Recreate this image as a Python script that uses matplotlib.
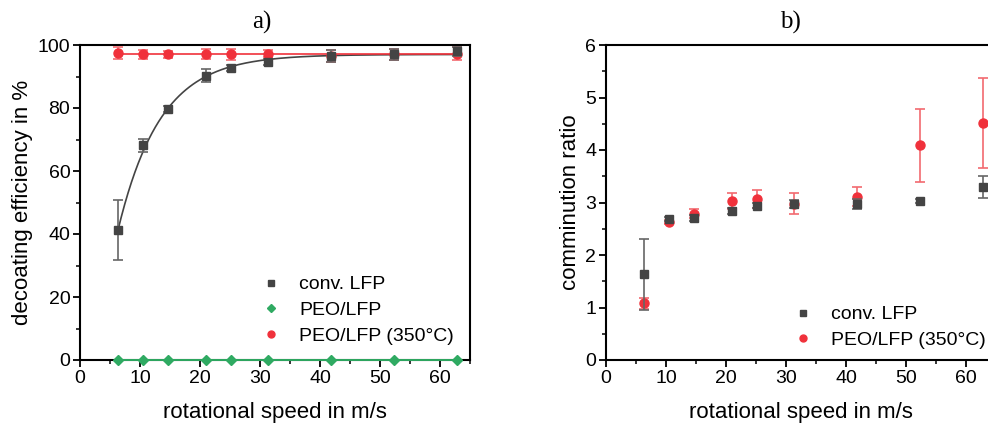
import numpy as np
import matplotlib
matplotlib.use("Agg")
import matplotlib.pyplot as plt
from matplotlib.lines import Line2D
from matplotlib.ticker import MultipleLocator

plt.rcParams["font.family"] = ["Liberation Sans", "DejaVu Sans"]

# rotational speeds (m/s)
speed = [6.3, 10.5, 14.7, 21.0, 25.1, 31.4, 41.9, 52.4, 62.9]

# a) decoating efficiency in %
conv_eff = [41.3, 68.1, 79.7, 90.3, 92.7, 94.7, 96.5, 97.0, 98.0]
conv_eff_err = [9.5, 2.0, 1.0, 2.0, 1.0, 1.0, 2.0, 1.8, 1.5]
peo_eff = [0, 0, 0, 0, 0, 0, 0, 0, 0]
peo350_eff = [97.5, 97.0, 97.0, 97.2, 97.0, 97.3, 96.5, 97.0, 97.3]
peo350_eff_err = [1.8, 1.5, 1.2, 1.5, 1.8, 1.0, 2.0, 1.8, 2.0]

# exponential fit of conv. LFP and constant fit of PEO/LFP (350°C)
fit_a, fit_b, fit_tau = 97.0, 136.9, 7.05
fit_const = 97.0

# b) comminution ratio
conv_ratio = [1.63, 2.68, 2.71, 2.84, 2.94, 2.97, 2.97, 3.03, 3.30]
conv_ratio_err = [0.67, 0.04, 0.06, 0.05, 0.05, 0.08, 0.10, 0.04, 0.21]
peo350_ratio = [1.08, 2.63, 2.79, 3.03, 3.06, 2.98, 3.11, 4.09, 4.52]
peo350_ratio_err = [0.10, 0.04, 0.08, 0.15, 0.17, 0.20, 0.18, 0.69, 0.86]

gray = "#444444"
red = "#f0313b"
red_err = "#f26a70"
green = "#2faa62"

fig = plt.figure(figsize=(9.88, 4.25), dpi=100)
ax1 = fig.add_axes([80 / 988, 65 / 425, 390 / 988, 315 / 425])
ax2 = fig.add_axes([606 / 988, 65 / 425, 390 / 988, 315 / 425])


def style(ax):
    for s in ax.spines.values():
        s.set_linewidth(1.5)
    ax.tick_params(which="major", direction="out", length=5, width=1.3, labelsize=14, pad=2)
    ax.tick_params(which="minor", direction="out", length=3, width=1.1)
    ax.xaxis.set_major_locator(MultipleLocator(10))
    ax.xaxis.set_minor_locator(MultipleLocator(5))
    ax.set_xlim(0, 65)
    ax.set_xlabel("rotational speed in m/s", fontsize=16, labelpad=11)


def marker_handle(marker, color, size):
    return Line2D([], [], ls="none", marker=marker, color=color, ms=size)


err_kw = dict(elinewidth=1.2, capsize=3.5, capthick=1.2)
leg_kw = dict(bbox_transform=fig.transFigure, loc="upper left", frameon=False, fontsize=14,
              borderpad=0, handlelength=1.0, handletextpad=0.92, labelspacing=0.42)

# ---- a)
xf = np.linspace(speed[0], speed[-1], 200)
ax1.plot(xf, fit_a - fit_b * np.exp(-xf / fit_tau), color=gray, lw=1.2, zorder=2)
ax1.plot([speed[0], speed[-1]], [fit_const, fit_const], color=red, lw=1.2, zorder=2)
ax1.plot(speed, peo_eff, color=green, lw=1.4, zorder=7, clip_on=False)
ax1.errorbar(speed, peo350_eff, yerr=peo350_eff_err, fmt="o", ms=6.5, color=red,
             ecolor=red_err, zorder=4, **err_kw)
ax1.plot(speed, peo_eff, "D", ms=5, color=green, zorder=8, clip_on=False)
ax1.errorbar(speed, conv_eff, yerr=conv_eff_err, fmt="s", ms=6, color=gray,
             ecolor="#666666", zorder=6, **err_kw)
style(ax1)
ax1.set_ylim(0, 100)
ax1.yaxis.set_major_locator(MultipleLocator(20))
ax1.yaxis.set_minor_locator(MultipleLocator(10))
ax1.set_ylabel("decoating efficiency in %", fontsize=16, labelpad=3)
ax1.legend([marker_handle("s", gray, 5), marker_handle("D", green, 4.5), marker_handle("o", red, 5)],
           ["conv. LFP", "PEO/LFP", "PEO/LFP (350°C)"],
           bbox_to_anchor=(252 / 988, 1 - 266 / 425), **leg_kw)

# ---- b)
ax2.errorbar(speed, peo350_ratio, yerr=peo350_ratio_err, fmt="o", ms=6.5, color=red,
             ecolor=red_err, zorder=4, **err_kw)
ax2.errorbar(speed, conv_ratio, yerr=conv_ratio_err, fmt="s", ms=6, color=gray,
             ecolor="#666666", zorder=5, **err_kw)
style(ax2)
ax2.set_ylim(0, 6)
ax2.yaxis.set_major_locator(MultipleLocator(1))
ax2.yaxis.set_minor_locator(MultipleLocator(0.5))
ax2.set_ylabel("comminution ratio", fontsize=16, labelpad=3)
ax2.legend([marker_handle("s", gray, 5), marker_handle("o", red, 5)],
           ["conv. LFP", "PEO/LFP (350°C)"],
           bbox_to_anchor=(784 / 988, 1 - 296 / 425), **leg_kw)

fig.text(262 / 988, 1 - 22 / 425, "a)", family="Liberation Serif", fontsize=18,
         ha="center", va="center")
fig.text(790 / 988, 1 - 22 / 425, "b)", family="Liberation Serif", fontsize=18,
         ha="center", va="center")

fig.savefig("out.png", dpi=100, facecolor="white")
